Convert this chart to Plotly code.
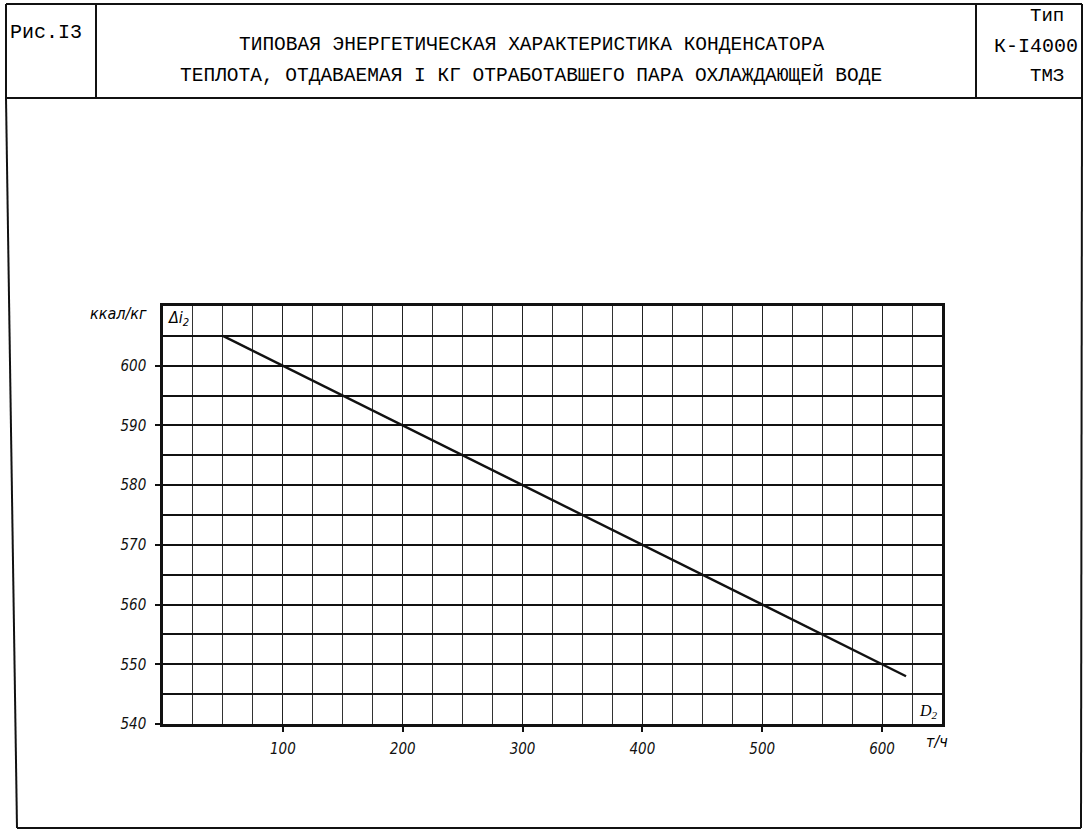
import plotly.graph_objects as go

# ---- data ----
flow_t_per_h = [50, 100, 200, 300, 400, 500, 600, 620]
heat_kcal_per_kg = [605, 600, 590, 580, 570, 560, 550, 548]
x_tick_vals = [100, 200, 300, 400, 500, 600]
y_tick_vals = [540, 550, 560, 570, 580, 590, 600]

title_line1 = "ТИПОВАЯ ЭНЕРГЕТИЧЕСКАЯ ХАРАКТЕРИСТИКА КОНДЕНСАТОРА"
title_line2 = "ТЕПЛОТА, ОТДАВАЕМАЯ I КГ ОТРАБОТАВШЕГО ПАРА ОХЛАЖДАЮЩЕЙ ВОДЕ"
fig_label = "Рис.I3"
type_lines = ["Тип", "К-I4000", "ТМЗ"]

W, H = 1084, 835
L, R, T, B = 163, 942, 306, 724


def px(x):
    return (x - L) / (R - L)


def py(y):
    return (B - y) / (B - T)


mono = "Liberation Mono, Courier New, monospace"
tech = "Liberation Sans Narrow, DejaVu Sans Condensed, Arial Narrow, sans-serif"

fig = go.Figure()
fig.add_trace(go.Scatter(x=flow_t_per_h, y=heat_kcal_per_kg, mode="lines",
                         line=dict(color="#111", width=2.4), showlegend=False,
                         hoverinfo="skip"))

fig.update_layout(
    width=W, height=H,
    margin=dict(l=L, r=W - R, t=T, b=H - B, pad=0),
    paper_bgcolor="white", plot_bgcolor="white",
    showlegend=False,
    xaxis=dict(range=[0, 650], tickvals=x_tick_vals,
               ticktext=[f"<i>{v}</i>" for v in x_tick_vals],
               showgrid=True, gridcolor="#222", gridwidth=1.3,
               minor=dict(dtick=25, tick0=0, showgrid=True, gridcolor="#333", gridwidth=1.1),
               ticks="outside", ticklen=5, tickcolor="#111", tickwidth=1.5,
               showline=True, linecolor="#111", linewidth=2.5, mirror=True,
               zeroline=False, fixedrange=True,
               tickfont=dict(family=tech, size=15, color="#111"), ticklabelstandoff=4),
    yaxis=dict(range=[540, 610], tickvals=y_tick_vals,
               ticktext=[f"<i>{v}</i>" for v in y_tick_vals],
               showgrid=True, gridcolor="#111", gridwidth=1.8,
               minor=dict(dtick=5, tick0=540, showgrid=True, gridcolor="#111", gridwidth=1.8),
               ticks="outside", ticklen=5, tickcolor="#111", tickwidth=1.5,
               showline=True, linecolor="#111", linewidth=2.5, mirror=True,
               zeroline=False, fixedrange=True,
               tickfont=dict(family=tech, size=15, color="#111"), ticklabelstandoff=6),
)

# ---- frame shapes ----
frame = [
    (6, 4, 1082, 4), (6, 98, 1082, 98), (6, 4, 6, 98), (1082, 4, 1082, 98),
    (96, 4, 96, 98), (976, 4, 976, 98),
    (6, 98, 17, 828), (17, 828, 1081, 828), (1082, 98, 1081, 828),
]
for x0, y0, x1, y1 in frame:
    fig.add_shape(type="line", xref="paper", yref="paper",
                  x0=px(x0), y0=py(y0), x1=px(x1), y1=py(y1),
                  line=dict(color="#111", width=2))


# ---- texts ----
def txt(x, y, s, family=mono, size=18, anchor="center", italic=False):
    if italic:
        s = f"<i>{s}</i>"
    fig.add_annotation(xref="paper", yref="paper", x=px(x), y=py(y), text=s,
                       showarrow=False, xanchor=anchor, yanchor="middle",
                       font=dict(family=family, size=size, color="#000"))


txt(531, 45, title_line1, size=19.5)
txt(531, 76, title_line2, size=19.5)
txt(46, 32, fig_label, size=20)
txt(1047, 16, type_lines[0], size=19)
txt(1036, 46, type_lines[1], size=20)
txt(1047, 76, type_lines[2], size=19)

txt(149, 313, "ккал/кг", family=tech, size=16, anchor="right", italic=True)
txt(166, 318, "Δi<sub>2</sub>", family=tech, size=16, anchor="left", italic=True)
txt(917, 711, "D<sub>2</sub>", family="Liberation Serif, serif", size=16, anchor="left", italic=True)
txt(924, 741, "т/ч", family=tech, size=16, anchor="left", italic=True)

fig.write_html("out.html", config={"displayModeBar": False},
               post_script="document.body.style.margin='0px';document.body.style.overflow='hidden';")
